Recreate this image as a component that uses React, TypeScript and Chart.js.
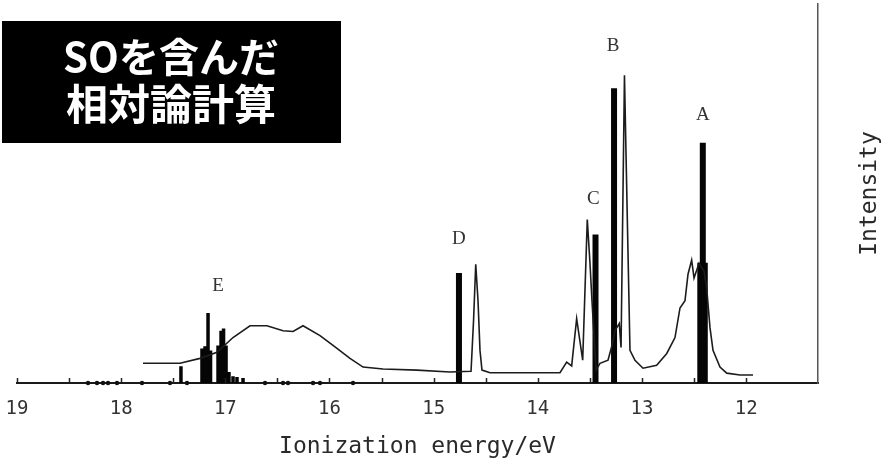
import { useEffect, useRef } from "react";
import { Chart, registerables } from "chart.js";

Chart.register(...registerables);

// Axis tick labels (eV) and the short inward tick marks
const tickLabels = [19, 18, 17, 16, 15, 14, 13, 12];
const minorTicks = [19, 18.5, 18, 17.5, 17, 16.5, 16, 15.5, 15, 14.5, 14, 13.5, 13, 12.5, 12];

// Measured photoelectron spectrum
const spectrumEnergy = [
  17.79, 17.435, 17.243, 17.08, 16.926, 16.763, 16.6, 16.446, 16.35, 16.254,
  16.091, 15.966, 15.803, 15.678, 15.486, 15.16, 14.843, 14.641, 14.617, 14.596,
  14.574, 14.555, 14.536, 14.459, 13.787, 13.723, 13.675, 13.627, 13.569, 13.525,
  13.499, 13.48, 13.441, 13.403, 13.326, 13.288, 13.259, 13.218, 13.201, 13.168,
  13.144, 13.115, 13.067, 12.99, 12.859, 12.762, 12.683, 12.635, 12.587, 12.558,
  12.523, 12.5, 12.452, 12.404, 12.379, 12.347, 12.318, 12.251, 12.186, 12.059,
  11.934,
];
const spectrumIntensity = [
  5.2, 5.2, 6.5, 8.1, 12.0, 15.1, 15.1, 13.8, 13.6, 15.1,
  12.5, 9.9, 6.5, 4.2, 3.7, 3.4, 2.9, 3.1, 16.4, 31.3,
  21.7, 8.6, 3.4, 2.7, 2.7, 5.5, 4.5, 17.0, 6.0, 43.1,
  31.6, 21.7, 3.4, 5.2, 6.0, 9.9, 13.8, 15.7, 9.4, 81.2,
  47.8, 8.6, 6.0, 3.9, 4.7, 7.8, 12.0, 19.8, 21.7, 28.7,
  32.4, 27.7, 31.6, 29.5, 25.1, 14.6, 8.6, 4.2, 2.6, 2.1,
  2.1,
];

// Calculated ionization lines: main peaks D, C, B, A
const stickEnergy = [14.757, 13.446, 13.268, 12.416];
const stickIntensity = [29.0, 39.2, 77.8, 63.4];

// Weaker calculated lines (E band and the sides of A)
const fineStickEnergy = [
  17.426, 17.224, 17.195, 17.166, 17.142, 17.07, 17.041, 17.017, 16.993, 16.965,
  16.926, 16.888, 16.83, 12.452, 12.385,
];
const fineStickIntensity = [
  4.4, 9.1, 9.7, 18.5, 8.6, 9.9, 13.8, 14.4, 9.9, 2.9,
  1.8, 1.6, 1.3, 31.7, 31.7,
];

// Very weak lines sitting on the baseline
const baselineDotEnergy = [
  18.318, 18.232, 18.174, 18.126, 18.04, 17.8, 17.531, 17.368, 16.619, 16.446,
  16.398, 16.158, 16.091, 15.774,
];

// Band labels
const peakLabels = ["A", "B", "C", "D", "E"];
const peakLabelEnergy = [12.416, 13.278, 13.466, 14.757, 17.07];
const peakLabelIntensity = [70.8, 89.0, 48.6, 37.9, 25.6];

const headingLines = ["SOを含んだ", "相対論計算"];

// Vertical line segments from the baseline, separated by gaps
function sticks(energy: number[], intensity: number[]) {
  return energy.flatMap((e, i) => [
    { x: e, y: 0 },
    { x: e, y: intensity[i] },
    { x: e, y: null },
  ]);
}

const overlay = {
  id: "overlay",
  afterDatasetsDraw(chart: any) {
    const { ctx, chartArea, scales } = chart;
    const x = scales.x;
    const y = scales.y;
    ctx.save();
    // inward tick marks on the energy axis
    ctx.strokeStyle = "#222";
    ctx.lineWidth = 1.5;
    for (const e of minorTicks) {
      const px = Math.round(x.getPixelForValue(e)) + 0.5;
      ctx.beginPath();
      ctx.moveTo(px, chartArea.bottom);
      ctx.lineTo(px, chartArea.bottom - 5);
      ctx.stroke();
    }
    // band letters
    ctx.font = '19px "Liberation Serif"';
    ctx.fillStyle = "#333";
    ctx.textAlign = "center";
    ctx.textBaseline = "middle";
    peakLabels.forEach((t, i) => {
      ctx.fillText(t, x.getPixelForValue(peakLabelEnergy[i]), y.getPixelForValue(peakLabelIntensity[i]));
    });
    ctx.restore();
  },
  afterDraw(chart: any) {
    const { ctx, chartArea } = chart;
    ctx.save();
    ctx.fillStyle = "#2a2a2a";
    ctx.font = '23px "DejaVu Sans Mono"';
    ctx.textAlign = "center";
    ctx.textBaseline = "middle";
    // energy axis title
    ctx.fillText("Ionization energy/eV", (chartArea.left + chartArea.right) / 2, 447);
    // intensity title, rotated to read upwards
    ctx.translate(870, (chartArea.top + chartArea.bottom) / 2);
    ctx.rotate(-Math.PI / 2);
    ctx.fillText("Intensity", 0, 0);
    ctx.restore();

    // heading box
    ctx.save();
    ctx.fillStyle = "#000";
    ctx.fillRect(2, 21, 339, 122);
    ctx.fillStyle = "#fff";
    ctx.textAlign = "center";
    ctx.textBaseline = "middle";
    ctx.font = 'bold 40px "Noto Sans CJK JP"';
    ctx.fillText(headingLines[0], 171, 57);
    ctx.font = 'bold 42px "Noto Sans CJK JP"';
    ctx.fillText(headingLines[1], 171, 104);
    ctx.restore();
  },
};

export default function App() {
  const ref = useRef<HTMLCanvasElement>(null);

  useEffect(() => {
    const canvas = ref.current;
    if (!canvas) return;
    const chart = new Chart(canvas, {
      type: "line",
      data: {
        datasets: [
          {
            label: "spectrum",
            data: spectrumEnergy.map((e, i) => ({ x: e, y: spectrumIntensity[i] })),
            borderColor: "#1c1c1c",
            borderWidth: 1.6,
            pointRadius: 0,
            tension: 0,
          },
          {
            label: "calculated",
            data: sticks(stickEnergy, stickIntensity),
            borderColor: "#050505",
            borderWidth: 6,
            borderCapStyle: "butt",
            pointRadius: 0,
            spanGaps: false,
          },
          {
            label: "calculated (weak)",
            data: sticks(fineStickEnergy, fineStickIntensity),
            borderColor: "#050505",
            borderWidth: 3.5,
            borderCapStyle: "butt",
            pointRadius: 0,
            spanGaps: false,
          },
          {
            label: "calculated (very weak)",
            data: baselineDotEnergy.map((e) => ({ x: e, y: 0 })),
            showLine: false,
            pointRadius: 2.2,
            pointStyle: "circle",
            backgroundColor: "#111",
            borderColor: "#111",
            borderWidth: 0,
            clip: false,
          },
        ],
      },
      options: {
        responsive: false,
        animation: false,
        devicePixelRatio: 1,
        events: [],
        layout: { padding: { left: 17, right: 77, top: 0, bottom: 0 } },
        plugins: { legend: { display: false }, tooltip: { enabled: false } },
        scales: {
          x: {
            type: "linear",
            reverse: true,
            min: 11.31,
            max: 19,
            position: "bottom",
            afterBuildTicks: (s: any) => {
              s.ticks = tickLabels.map((v) => ({ value: v }));
            },
            afterFit: (s: any) => {
              s.height = 76;
              s.paddingLeft = 0;
              s.paddingRight = 0;
            },
            grid: { display: false, drawTicks: false },
            border: { display: true, color: "#1a1a1a", width: 2 },
            ticks: {
              font: { family: '"DejaVu Sans Mono"', size: 19 },
              color: "#333",
              padding: 15,
              maxRotation: 0,
              autoSkip: false,
              callback: (v: any) => String(v),
            },
          },
          y: {
            type: "linear",
            position: "right",
            min: 0,
            max: 100,
            afterFit: (s: any) => {
              s.width = 0;
              s.paddingTop = 0;
              s.paddingBottom = 0;
            },
            grid: { display: false, drawTicks: false },
            border: { display: true, color: "#555", width: 1.5 },
            ticks: { display: false },
          },
        },
      },
      plugins: [overlay],
    } as any);
    return () => chart.destroy();
  }, []);

  return (
    <div style={{ position: "absolute", left: 0, top: 0, width: 895, height: 459, background: "#fff" }}>
      <canvas ref={ref} width={895} height={459} style={{ display: "block", width: 895, height: 459 }} />
    </div>
  );
}
